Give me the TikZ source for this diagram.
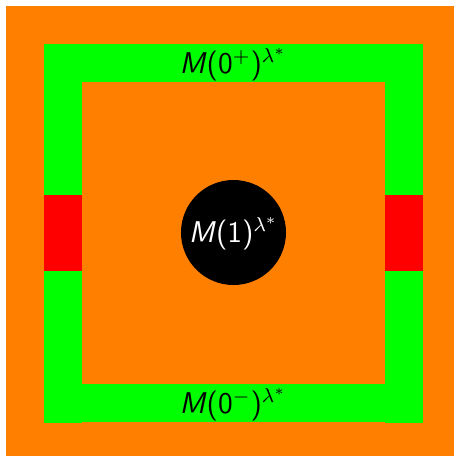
\documentclass[tikz,border=0pt]{standalone}
\usepackage{fontspec}
\definecolor{myorange}{RGB}{255,128,0}
\definecolor{mygreen}{RGB}{0,255,0}
\definecolor{myred}{RGB}{255,0,0}
\newcommand{\mlab}[1]{\textit{M}(#1)$^{\lambda^*}$}
\begin{document}
\begin{tikzpicture}[x=0.4pt,y=-0.4pt,
  lab/.style={font=\sffamily\fontsize{12}{14}\selectfont, inner sep=0pt, anchor=base}]
\useasboundingbox (0,0) rectangle (454,456);
\fill[white] (0,0) rectangle (454,456);
\fill[myorange] (6,6) rectangle (454,456);
\fill[mygreen] (44,44) rectangle (423,82);
\fill[mygreen] (44,44) rectangle (82,423);
\fill[mygreen] (385,44) rectangle (423,423);
\fill[mygreen] (82,384) rectangle (385,422);
\fill[myred] (44,195) rectangle (82,271);
\fill[myred] (385,195) rectangle (423,271);
\fill[black] (233.5,232.5) circle[radius=52.5];
\node[lab] (top) at (233,73) {\mlab{0$^{+}$}};
\node[lab] (bot) at (233,413) {\mlab{0$^{-}$}};
\node[lab, text=white] (mid) at (233.5,242) {\mlab{1}};
\end{tikzpicture}
\end{document}
